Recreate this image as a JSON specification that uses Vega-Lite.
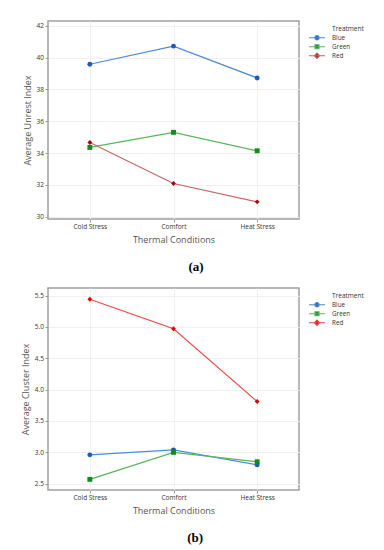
{
  "$schema": "https://vega.github.io/schema/vega-lite/v6.json",
  "padding": {"top": 20, "left": 20, "right": 5, "bottom": 5},
  "datasets": {
    "unrest": [
      {"condition": "Cold Stress", "treatment": "Blue", "value": 39.58},
      {"condition": "Comfort", "treatment": "Blue", "value": 40.72},
      {"condition": "Heat Stress", "treatment": "Blue", "value": 38.72},
      {"condition": "Cold Stress", "treatment": "Green", "value": 34.35},
      {"condition": "Comfort", "treatment": "Green", "value": 35.3},
      {"condition": "Heat Stress", "treatment": "Green", "value": 34.14},
      {"condition": "Cold Stress", "treatment": "Red", "value": 34.66},
      {"condition": "Comfort", "treatment": "Red", "value": 32.08},
      {"condition": "Heat Stress", "treatment": "Red", "value": 30.93}
    ],
    "cluster": [
      {"condition": "Cold Stress", "treatment": "Blue", "value": 2.96},
      {"condition": "Comfort", "treatment": "Blue", "value": 3.04},
      {"condition": "Heat Stress", "treatment": "Blue", "value": 2.8},
      {"condition": "Cold Stress", "treatment": "Green", "value": 2.57},
      {"condition": "Comfort", "treatment": "Green", "value": 3.0},
      {"condition": "Heat Stress", "treatment": "Green", "value": 2.85},
      {"condition": "Cold Stress", "treatment": "Red", "value": 5.44},
      {"condition": "Comfort", "treatment": "Red", "value": 4.97},
      {"condition": "Heat Stress", "treatment": "Red", "value": 3.81}
    ]
  },
  "spacing": 12,
  "resolve": {
    "scale": {"stroke": "independent", "fill": "independent", "shape": "independent", "y": "independent"},
    "legend": {"stroke": "independent", "fill": "independent", "shape": "independent"}
  },
  "vconcat": [
    {
      "width": 251,
      "height": 198,
      "data": {"name": "unrest"},
      "title": {"text": "(a)"},
      "encoding": {
        "x": {"field": "condition", "type": "nominal", "sort": ["Cold Stress", "Comfort", "Heat Stress"],
              "scale": {"type": "point", "padding": 0.5}, "title": "Thermal Conditions"},
        "y": {"field": "value", "type": "quantitative",
              "scale": {"domain": [29.85, 42.3], "nice": false, "zero": false},
              "axis": {"values": [30, 32, 34, 36, 38, 40, 42]}, "title": "Average Unrest Index"}
      },
      "layer": [
        {
          "mark": {"type": "line", "strokeWidth": 1.2},
          "encoding": {
            "stroke": {"field": "treatment", "type": "nominal",
              "scale": {"domain": ["Blue", "Green", "Red"], "range": ["#4f8ad8", "#55b85a", "#c86464"]},
              "legend": {"title": "Treatment",
                "encoding": {
                  "symbols": {
                    "shape": {"value": {"expr": "datum.value === 'Blue' ? 'M-1,0H1M-0.27,0A0.27,0.27 0 1,0 0.27,0A0.27,0.27 0 1,0 -0.27,0Z' : datum.value === 'Green' ? 'M-1,0H1M-0.25,-0.25H0.25V0.25H-0.25Z' : 'M-1,0H1M0,-0.33L0.33,0L0,0.33L-0.33,0Z'"}},
                    "fill": {"value": {"expr": "datum.value === 'Blue' ? '#1a5cb8' : datum.value === 'Green' ? '#138a20' : '#9a1010'"}}
                  },
                  "title": {"dx": {"value": 24}}
                }}}
          }
        },
        {
          "mark": {"type": "point", "filled": true, "size": 24, "opacity": 1},
          "encoding": {
            "fill": {"field": "treatment", "type": "nominal",
              "scale": {"range": ["#1a5cb8", "#138a20", "#9a1010"]}, "legend": null},
            "shape": {"field": "treatment", "type": "nominal",
              "scale": {"range": ["circle", "square", "diamond"]}, "legend": null}
          }
        }
      ]
    },
    {
      "width": 251,
      "height": 202,
      "data": {"name": "cluster"},
      "title": {"text": "(b)"},
      "encoding": {
        "x": {"field": "condition", "type": "nominal", "sort": ["Cold Stress", "Comfort", "Heat Stress"],
              "scale": {"type": "point", "padding": 0.5}, "title": "Thermal Conditions"},
        "y": {"field": "value", "type": "quantitative",
              "scale": {"domain": [2.4, 5.62], "nice": false, "zero": false},
              "axis": {"values": [2.5, 3.0, 3.5, 4.0, 4.5, 5.0, 5.5], "format": ".1f"}, "title": "Average Cluster Index"}
      },
      "layer": [
        {
          "mark": {"type": "line", "strokeWidth": 1.2},
          "encoding": {
            "stroke": {"field": "treatment", "type": "nominal",
              "scale": {"domain": ["Blue", "Green", "Red"], "range": ["#4f8ad8", "#55b85a", "#f04848"]},
              "legend": {"title": "Treatment",
                "encoding": {
                  "symbols": {
                    "shape": {"value": {"expr": "datum.value === 'Blue' ? 'M-1,0H1M-0.27,0A0.27,0.27 0 1,0 0.27,0A0.27,0.27 0 1,0 -0.27,0Z' : datum.value === 'Green' ? 'M-1,0H1M-0.25,-0.25H0.25V0.25H-0.25Z' : 'M-1,0H1M0,-0.33L0.33,0L0,0.33L-0.33,0Z'"}},
                    "fill": {"value": {"expr": "datum.value === 'Blue' ? '#1a5cb8' : datum.value === 'Green' ? '#138a20' : '#e00000'"}}
                  },
                  "title": {"dx": {"value": 24}}
                }}}
          }
        },
        {
          "mark": {"type": "point", "filled": true, "size": 24, "opacity": 1},
          "encoding": {
            "fill": {"field": "treatment", "type": "nominal",
              "scale": {"range": ["#1a5cb8", "#138a20", "#e00000"]}, "legend": null},
            "shape": {"field": "treatment", "type": "nominal",
              "scale": {"range": ["circle", "square", "diamond"]}, "legend": null}
          }
        }
      ]
    }
  ],
  "config": {
    "font": "Open Sans",
    "view": {"stroke": "#a0a0a0", "strokeWidth": 1.5},
    "axis": {
      "domain": false, "grid": true, "gridColor": "#f0f0f0", "gridWidth": 1,
      "tickColor": "#999999", "tickSize": 3, "tickWidth": 1,
      "labelFont": "Open Sans", "labelFontSize": 6.5, "labelColor": "#333333", "labelPadding": 1.5,
      "titleFont": "Open Sans", "titleFontSize": 9, "titleFontWeight": "normal", "titleColor": "#555555"
    },
    "axisX": {"labelAngle": 0, "titlePadding": 5},
    "axisY": {"titlePadding": 4},
    "legend": {
      "orient": "right", "offset": 4, "padding": 5,
      "titleFont": "Open Sans", "titleFontSize": 6.5, "titleFontWeight": "normal", "titleColor": "#333333", "titlePadding": 1,
      "labelFont": "Open Sans", "labelFontSize": 6.3, "labelColor": "#333333", "labelOffset": 6,
      "symbolSize": 256, "symbolStrokeWidth": 1.2, "clipHeight": 8.5, "rowPadding": 0
    },
    "title": {
      "orient": "bottom", "anchor": "middle", "frame": "bounds", "font": "Liberation Serif",
      "fontSize": 13, "fontWeight": "bold", "color": "#000000", "offset": 17
    }
  }
}
